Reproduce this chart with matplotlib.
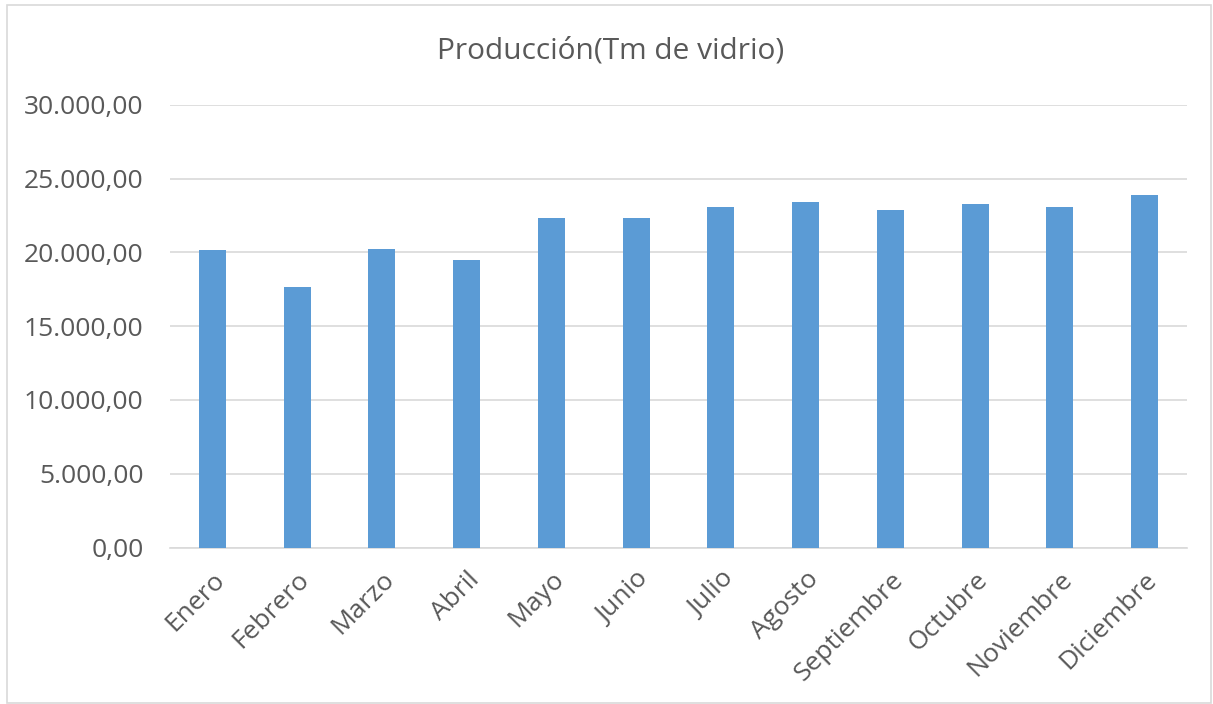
import matplotlib.pyplot as plt
from matplotlib.patches import Rectangle
from matplotlib.ticker import FuncFormatter

meses = ['Enero', 'Febrero', 'Marzo', 'Abril', 'Mayo', 'Junio', 'Julio',
         'Agosto', 'Septiembre', 'Octubre', 'Noviembre', 'Diciembre']
produccion = [20140, 17670, 20230, 19460, 22330, 22310, 23080,
              23440, 22880, 23280, 23080, 23910]

plt.rcParams['font.family'] = ['Open Sans', 'DejaVu Sans']
gris = '#595959'

fig = plt.figure(figsize=(12.13, 7.04), dpi=100)
ax = fig.add_axes([0.1401, 0.2223, 0.8385, 0.6286])

x = range(len(meses))
ax.bar(x, produccion, width=0.32, color='#5b9bd5', zorder=3)

ax.set_ylim(0, 30000)
ax.set_xlim(-0.5, len(meses) - 0.5)
ax.set_yticks(range(0, 30001, 5000))
ax.yaxis.set_major_formatter(FuncFormatter(
    lambda v, p: f'{v:,.2f}'.replace(',', 'X').replace('.', ',').replace('X', '.')))
ax.grid(axis='y', color='#d9d9d9', linewidth=1.2, zorder=0)

for s in ['top', 'right', 'left']:
    ax.spines[s].set_visible(False)
ax.spines['bottom'].set_color('#d9d9d9')
ax.spines['bottom'].set_linewidth(1.2)

ax.tick_params(axis='both', length=0, labelsize=19, labelcolor=gris)
ax.tick_params(axis='y', pad=19)
ax.set_xticks(list(x))
ax.set_xticklabels(meses, rotation=45, ha='right', va='top', rotation_mode='anchor')
ax.tick_params(axis='x', pad=14)

fig.text(0.503, 1 - 51 / 704, 'Producción(Tm de vidrio)', ha='center', va='center',
         fontsize=21.5, color=gris)

fig.patches.append(Rectangle((7 / 1213, 1 / 704), 1204 / 1213, 698 / 704,
                             transform=fig.transFigure, fill=False,
                             edgecolor='#d9d9d9', linewidth=1.2))

fig.savefig('out.png', dpi=100)
